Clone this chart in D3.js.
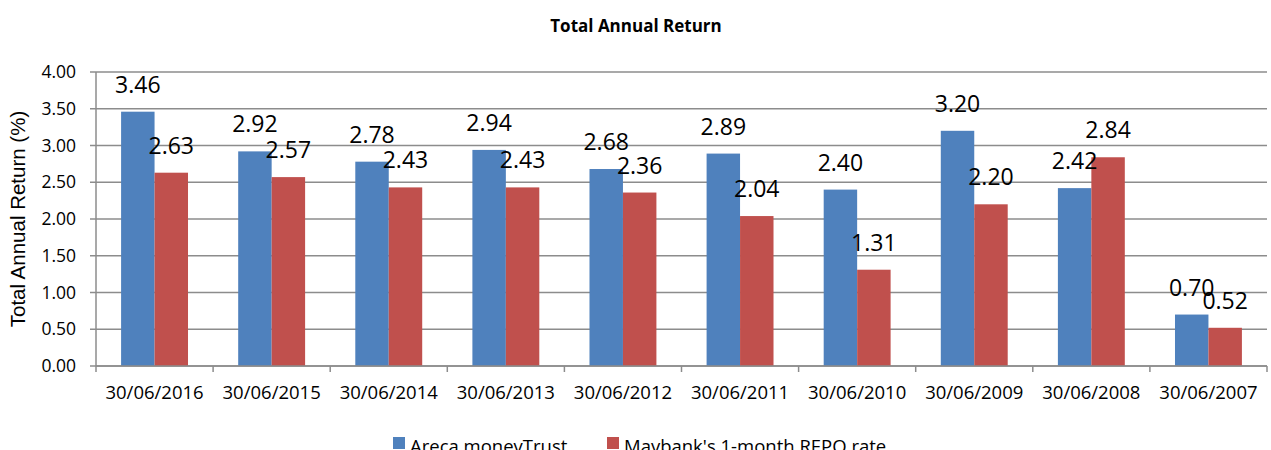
<!DOCTYPE html>
<html>
<head>
<meta charset="utf-8">
<script src="https://cdn.jsdelivr.net/npm/d3@7.9.0/dist/d3.min.js"></script>
<style>
  body { margin: 0; background: #fff; }
  svg { font-family: "Open Sans", Lato, sans-serif; }
</style>
</head>
<body>
<svg id="chart" width="1271" height="450"></svg>
<script>
const dates = ['30/06/2016', '30/06/2015', '30/06/2014', '30/06/2013', '30/06/2012',
  '30/06/2011', '30/06/2010', '30/06/2009', '30/06/2008', '30/06/2007'];
const areca = [3.46, 2.92, 2.78, 2.94, 2.68, 2.89, 2.40, 3.20, 2.42, 0.70];
const maybank = [2.63, 2.57, 2.43, 2.43, 2.36, 2.04, 1.31, 2.20, 2.84, 0.52];
const seriesNames = ['Areca monevTrust', "Mavbank's 1-month REPO rate"];
const yTicks = [0, 0.5, 1, 1.5, 2, 2.5, 3, 3.5, 4];

const colors = ['#4f81bd', '#c0504d'];
const margin = { left: 96, right: 4, top: 72, bottom: 84 };
const width = 1271, height = 450;

const svg = d3.select('#chart');
const x = d3.scaleBand().domain(dates).range([margin.left, width - margin.right]);
const xInner = d3.scaleBand().domain([0, 1]).range([0, x.bandwidth()]).paddingOuter(0.75).paddingInner(0);
const y = d3.scaleLinear().domain([0, 4]).range([height - margin.bottom, margin.top]);

// gridlines
svg.append('g')
  .selectAll('line')
  .data(yTicks)
  .join('line')
  .attr('x1', margin.left - 6)
  .attr('x2', width - margin.right)
  .attr('y1', d => y(d))
  .attr('y2', d => y(d))
  .attr('stroke', '#8c8c8c')
  .attr('stroke-width', 1.3);

// y tick labels
svg.append('g')
  .selectAll('text')
  .data(yTicks)
  .join('text')
  .attr('x', margin.left - 20)
  .attr('y', d => y(d))
  .attr('dy', '0.35em')
  .attr('text-anchor', 'end')
  .attr('font-size', 17.5)
  .text(d => d.toFixed(2));

// bars
const groups = svg.append('g')
  .selectAll('g')
  .data(dates.map((d, i) => ({ date: d, vals: [areca[i], maybank[i]] })))
  .join('g')
  .attr('transform', d => `translate(${x(d.date)},0)`);

groups.selectAll('rect')
  .data(d => d.vals)
  .join('rect')
  .attr('x', (d, i) => xInner(i))
  .attr('width', xInner.bandwidth())
  .attr('y', d => y(d))
  .attr('height', d => y(0) - y(d))
  .attr('fill', (d, i) => colors[i]);

groups.selectAll('text')
  .data(d => d.vals)
  .join('text')
  .attr('x', (d, i) => xInner(i) + xInner.bandwidth() / 2)
  .attr('y', d => y(d) - 19)
  .attr('text-anchor', 'middle')
  .attr('font-size', 23)
  .text(d => d.toFixed(2));

// axes lines
svg.append('line')
  .attr('x1', margin.left).attr('x2', margin.left)
  .attr('y1', y(4)).attr('y2', y(0))
  .attr('stroke', '#8c8c8c').attr('stroke-width', 1.5);

const xAxis = svg.append('g');
xAxis.append('line')
  .attr('x1', margin.left).attr('x2', width - margin.right)
  .attr('y1', y(0)).attr('y2', y(0))
  .attr('stroke', '#8c8c8c').attr('stroke-width', 1.5);
xAxis.selectAll('line.tick')
  .data(dates.map(d => x(d)).concat([width - margin.right]))
  .join('line')
  .attr('class', 'tick')
  .attr('x1', d => d).attr('x2', d => d)
  .attr('y1', y(0)).attr('y2', y(0) + 6)
  .attr('stroke', '#8c8c8c').attr('stroke-width', 1.5);
xAxis.selectAll('text')
  .data(dates)
  .join('text')
  .attr('x', d => x(d) + x.bandwidth() / 2)
  .attr('y', 399)
  .attr('text-anchor', 'middle')
  .attr('font-size', 18.5)
  .text(d => d);

// titles
svg.append('text')
  .attr('x', 636).attr('y', 32)
  .attr('text-anchor', 'middle')
  .attr('font-size', 17)
  .attr('font-weight', 'bold')
  .text('Total Annual Return');

svg.append('text')
  .attr('transform', `translate(25,${(y(0) + y(4)) / 2}) rotate(-90)`)
  .attr('text-anchor', 'middle')
  .attr('font-family', '"Liberation Sans", Arial, sans-serif')
  .attr('font-size', 20.5)
  .text('Total Annual Return (%)');

// legend
const legendX = [393, 607];
const legend = svg.append('g')
  .selectAll('g')
  .data(seriesNames)
  .join('g')
  .attr('transform', (d, i) => `translate(${legendX[i]},437)`);
legend.append('rect')
  .attr('width', 12).attr('height', 12)
  .attr('fill', (d, i) => colors[i]);
legend.append('text')
  .attr('x', 17).attr('y', 16)
  .attr('font-size', 18.5)
  .text(d => d);
</script>
</body>
</html>
